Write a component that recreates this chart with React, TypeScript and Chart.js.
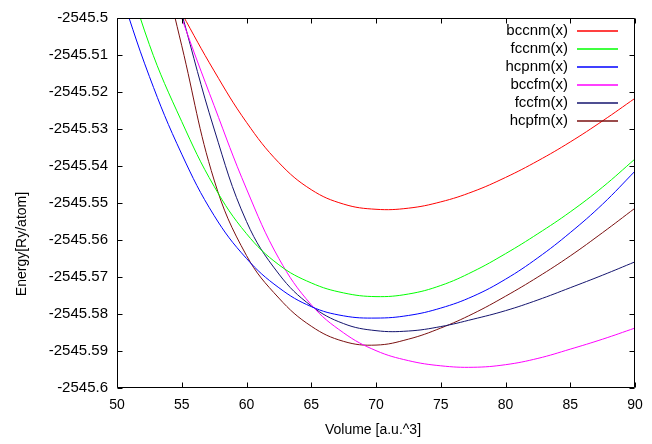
import React, { useEffect, useRef } from "react";
import { Chart, registerables } from "chart.js";

Chart.register(...registerables);

// ---- data (volumes in a.u.^3, energies in Ry/atom) ----
const seriesLabels = ["bccnm(x)", "fccnm(x)", "hcpnm(x)", "bccfm(x)", "fccfm(x)", "hcpfm(x)"];

const bccnmV = [52.5, 55, 57.5, 60, 62.5, 65, 67.5, 70, 72.5, 75, 77.5, 80, 82.5, 85, 87.5, 90];
const bccnmE = [-2545.4825, -2545.4987, -2545.5143, -2545.5282, -2545.5391, -2545.5464, -2545.5503, -2545.5517, -2545.5514, -2545.5497, -2545.5469, -2545.5431, -2545.5386, -2545.5335, -2545.5278, -2545.5217];

const fccnmV = [50, 52.5, 55, 57.5, 60, 62.5, 65, 67.5, 70, 72.5, 75, 77.5, 80, 82.5, 85, 87.5, 90];
const fccnmE = [-2545.479, -2545.5072, -2545.528, -2545.5455, -2545.5583, -2545.5667, -2545.5716, -2545.5743, -2545.5753, -2545.5746, -2545.5723, -2545.5685, -2545.5637, -2545.5583, -2545.5524, -2545.5457, -2545.5381];

const hcpnmV = [50, 52.5, 55, 57.5, 60, 62.5, 65, 67.5, 70, 72.5, 75, 77.5, 80, 82.5, 85, 87.5, 90];
const hcpnmE = [-2545.4902, -2545.5158, -2545.5368, -2545.5534, -2545.565, -2545.5729, -2545.578, -2545.5805, -2545.5811, -2545.5804, -2545.5784, -2545.5752, -2545.5706, -2545.5648, -2545.558, -2545.5503, -2545.5414];

const bccfmV = [52.5, 55, 57.5, 60, 62.5, 65, 67.5, 70, 72.5, 75, 77.5, 80, 82.5, 85, 87.5, 90];
const bccfmE = [-2545.474, -2545.5, -2545.5237, -2545.5462, -2545.565, -2545.5775, -2545.5851, -2545.5899, -2545.5926, -2545.594, -2545.5944, -2545.5937, -2545.592, -2545.5895, -2545.5868, -2545.5838];

const fccfmV = [52.5, 55, 57.5, 60, 62.5, 65, 67.5, 70, 72.5, 75, 77.5, 80, 82.5, 85, 87.5, 90];
const fccfmE = [-2545.467, -2545.4988, -2545.53, -2545.555, -2545.5692, -2545.5778, -2545.5826, -2545.5845, -2545.5846, -2545.5834, -2545.5814, -2545.5791, -2545.5762, -2545.5729, -2545.5695, -2545.5659];

const hcpfmV = [52.5, 55, 57.5, 60, 62.5, 65, 67.5, 70, 72.5, 75, 77.5, 80, 82.5, 85, 87.5, 90];
const hcpfmE = [-2545.471, -2545.5075, -2545.5438, -2545.5642, -2545.5757, -2545.5833, -2545.5874, -2545.5884, -2545.5868, -2545.5838, -2545.5799, -2545.5752, -2545.57, -2545.5643, -2545.558, -2545.5514];

const seriesV = [bccnmV, fccnmV, hcpnmV, bccfmV, fccfmV, hcpfmV];
const seriesE = [bccnmE, fccnmE, hcpnmE, bccfmE, fccfmE, hcpfmE];

const xTicks = [50, 55, 60, 65, 70, 75, 80, 85, 90];
const yTicks = [-2545.6, -2545.59, -2545.58, -2545.57, -2545.56, -2545.55, -2545.54, -2545.53, -2545.52, -2545.51, -2545.5];

const xTitle = "Volume [a.u.^3]";
const yTitle = "Energy[Ry/atom]";

// ---- styles ----
const seriesColors = ["#ff0000", "#00ff00", "#0000ff", "#ff00ff", "#14146e", "#7a1010"];
const FONT = '"Liberation Sans", Arial, sans-serif';

const gnuplotDeco = {
  id: "gnuplotDeco",
  afterDatasetsDraw(chart: any) {
    const { ctx, chartArea, scales } = chart;
    const { left, right, top, bottom } = chartArea;
    ctx.save();
    ctx.strokeStyle = "#000";
    ctx.lineWidth = 1;
    const L = Math.round(left) + 0.5;
    const R = Math.round(right) - 0.5;
    const T = Math.round(top) + 0.5;
    const B = Math.round(bottom) - 0.5;
    ctx.beginPath();
    ctx.rect(L, T, R - L, B - T);
    ctx.stroke();
    const tl = 5;
    ctx.beginPath();
    for (const v of yTicks) {
      const p = Math.round(scales.y.getPixelForValue(v)) + 0.5;
      ctx.moveTo(L, p); ctx.lineTo(L + tl, p);
      ctx.moveTo(R, p); ctx.lineTo(R - tl, p);
    }
    for (const v of xTicks) {
      const p = Math.round(scales.x.getPixelForValue(v)) + 0.5;
      ctx.moveTo(p, B); ctx.lineTo(p, B - tl);
      ctx.moveTo(p, T); ctx.lineTo(p, T + tl);
    }
    ctx.stroke();

    // axis titles
    ctx.fillStyle = "#000";
    ctx.font = `14px ${FONT}`;
    ctx.textAlign = "center";
    ctx.textBaseline = "middle";
    ctx.fillText(xTitle, (left + right) / 2 - 3, 430);
    ctx.save();
    ctx.translate(22, 244);
    ctx.rotate(-Math.PI / 2);
    ctx.fillText(yTitle, 0, 0);
    ctx.restore();

    // legend (gnuplot style, top-right inside the frame)
    ctx.font = `15px ${FONT}`;
    ctx.textAlign = "right";
    ctx.textBaseline = "middle";
    seriesLabels.forEach((label, i) => {
      const y = top + 13 + i * 17.9;
      ctx.fillStyle = "#000";
      ctx.fillText(label, right - 67, y);
      ctx.strokeStyle = seriesColors[i];
      ctx.lineWidth = 1.5;
      ctx.beginPath();
      ctx.moveTo(right - 58, Math.round(y));
      ctx.lineTo(right - 17, Math.round(y));
      ctx.stroke();
    });
    ctx.restore();
  },
};

export default function App() {
  const ref = useRef<HTMLCanvasElement | null>(null);
  useEffect(() => {
    if (!ref.current) return;
    const datasets = seriesLabels.map((label, i) => ({
      label,
      data: seriesV[i].map((v, j) => ({ x: v, y: seriesE[i][j] })),
      borderColor: seriesColors[i],
      backgroundColor: seriesColors[i],
      borderWidth: 1,
      pointRadius: 0,
      tension: 0.4,
      fill: false,
    }));
    const chart = new Chart(ref.current, {
      type: "line",
      data: { datasets },
      options: {
        animation: false,
        responsive: false,
        devicePixelRatio: 1,
        layout: { padding: { top: 12, right: 17, left: 0, bottom: 0 } },
        plugins: { legend: { display: false }, tooltip: { enabled: false } },
        scales: {
          x: {
            type: "linear",
            min: 50,
            max: 90,
            grid: { display: false, drawTicks: false },
            border: { display: false },
            afterBuildTicks: (s: any) => { s.ticks = xTicks.map((v) => ({ value: v })); },
            afterFit: (s: any) => { s.height = 56; },
            ticks: {
              color: "#000",
              padding: 9,
              font: { family: FONT, size: 14 },
              maxRotation: 0,
              callback: (v: any) => String(v),
            },
          },
          y: {
            type: "linear",
            min: -2545.6,
            max: -2545.5,
            grid: { display: false, drawTicks: false },
            border: { display: false },
            afterBuildTicks: (s: any) => { s.ticks = yTicks.map((v) => ({ value: v })); },
            afterFit: (s: any) => { s.width = 117; },
            ticks: {
              color: "#000",
              padding: 9,
              font: { family: FONT, size: 15 },
              callback: (v: any) => String(v),
            },
          },
        },
      } as any,
      plugins: [gnuplotDeco],
    });
    return () => chart.destroy();
  }, []);
  return (
    <div style={{ position: "absolute", left: 0, top: 0, width: 652, height: 444, background: "#fff" }}>
      <canvas ref={ref} width={652} height={444} style={{ display: "block" }} />
    </div>
  );
}
